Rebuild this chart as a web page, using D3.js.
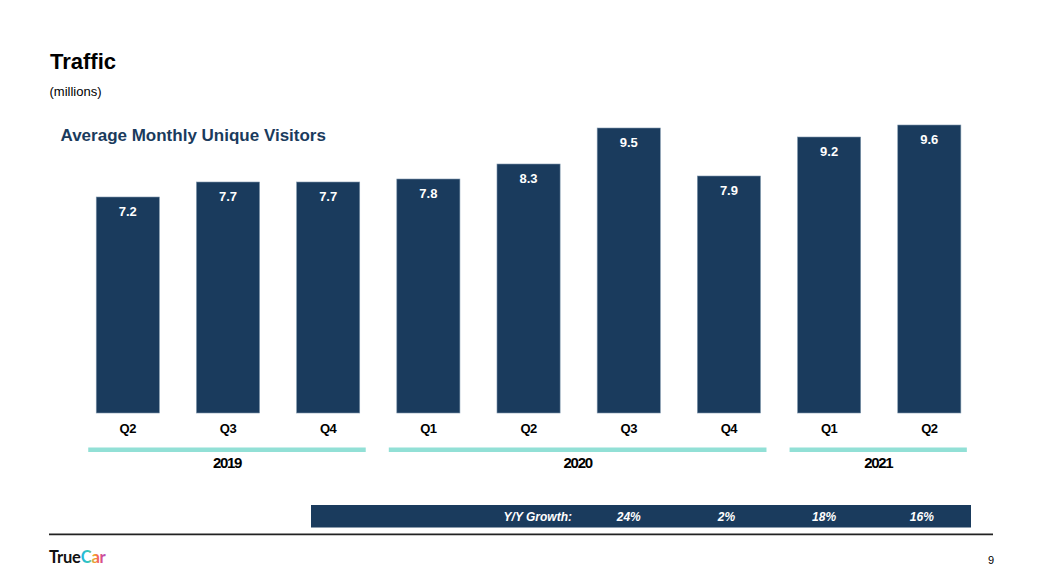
<!DOCTYPE html>
<html>
<head>
<meta charset="utf-8">
<script src="https://cdn.jsdelivr.net/npm/d3@7/dist/d3.min.js"></script>
<style>
  html, body { margin: 0; padding: 0; background: #fff; }
  svg { display: block; font-family: "Liberation Sans", Arial, Helvetica, sans-serif; }
</style>
</head>
<body>
<svg id="chart" width="1046" height="587"></svg>
<script>
// ---- data ----
const quarters = ["Q2", "Q3", "Q4", "Q1", "Q2", "Q3", "Q4", "Q1", "Q2"];
const years    = ["2019", "2019", "2019", "2020", "2020", "2020", "2020", "2021", "2021"];
const visitors = [7.2, 7.7, 7.7, 7.8, 8.3, 9.5, 7.9, 9.2, 9.6];
const yearGroups = ["2019", "2020", "2021"];
const growthIdx = [5, 6, 7, 8];
const growthLabels = ["24%", "2%", "18%", "16%"];

// ---- layout ----
const NAVY = "#1a3b5d";
const TEAL = "#92e0d6";
const svg = d3.select("#chart");

const keys = quarters.map((q, i) => i);
const x = d3.scaleBand().domain(keys).range([77.7, 979.4]).paddingInner(0.37).paddingOuter(0.185);
const y = d3.scaleLinear().domain([0, 9.6]).range([413, 125]);

// Titles
svg.append("text").attr("x", 50).attr("y", 69).attr("font-size", 22).attr("font-weight", "bold")
  .attr("fill", "#000").text("Traffic");
svg.append("text").attr("x", 49.5).attr("y", 96).attr("font-size", 13)
  .attr("fill", "#000").text("(millions)");
svg.append("text").attr("x", 60.5).attr("y", 141).attr("font-size", 17).attr("font-weight", "bold")
  .attr("fill", NAVY).text("Average Monthly Unique Visitors");

// Bars
svg.append("g").selectAll("rect").data(visitors).join("rect")
  .attr("x", (d, i) => x(i))
  .attr("y", d => y(d))
  .attr("width", x.bandwidth())
  .attr("height", d => y(0) - y(d))
  .attr("fill", NAVY)
  .attr("stroke", "#7d95ab")
  .attr("stroke-width", 0.6);

// Value labels
svg.append("g").selectAll("text").data(visitors).join("text")
  .attr("x", (d, i) => x(i) + x.bandwidth() / 2)
  .attr("y", d => y(d) + 19)
  .attr("text-anchor", "middle")
  .attr("font-size", 13).attr("font-weight", "bold").attr("fill", "#fff")
  .text(d => d.toFixed(1));

// Quarter axis
const xAxis = d3.axisBottom(x).tickSize(0).tickPadding(0).tickFormat(i => quarters[i]);
const axG = svg.append("g").attr("transform", `translate(0,${y(0)})`).call(xAxis);
axG.select(".domain").remove();
axG.selectAll("text")
  .attr("dy", null).attr("y", 20)
  .attr("font-size", 13).attr("font-weight", "bold").attr("fill", "#000")
  .attr("font-family", "'Liberation Sans', Arial, sans-serif")
  .attr("letter-spacing", "-0.5");

// Year group lines + labels
yearGroups.forEach(yr => {
  const idx = years.map((v, i) => v === yr ? i : -1).filter(i => i >= 0);
  const x0 = x(idx[0]) - 8;
  const x1 = x(idx[idx.length - 1]) + x.bandwidth() + 6;
  svg.append("rect").attr("x", x0).attr("y", 447.5).attr("width", x1 - x0).attr("height", 4.5).attr("fill", TEAL);
  svg.append("text").attr("x", (x0 + x1) / 2).attr("y", 468)
    .attr("text-anchor", "middle").attr("font-size", 15).attr("font-weight", "bold")
    .attr("letter-spacing", "-1.3").attr("fill", "#000").text(yr);
});

// Growth strip
svg.append("rect").attr("x", 311).attr("y", 505).attr("width", 660).attr("height", 22.5).attr("fill", NAVY);
svg.append("text").attr("x", 572).attr("y", 521).attr("text-anchor", "end")
  .attr("font-size", 12).attr("font-weight", "bold").attr("font-style", "italic").attr("fill", "#fff")
  .text("Y/Y Growth:");
svg.append("g").selectAll("text").data(growthLabels).join("text")
  .attr("x", (d, i) => x(growthIdx[i]) + x.bandwidth() / 2 - i * 2.5)
  .attr("y", 521)
  .attr("text-anchor", "middle")
  .attr("font-size", 12).attr("font-weight", "bold").attr("font-style", "italic").attr("fill", "#fff")
  .text(d => d);

// Footer rule
svg.append("line").attr("x1", 49).attr("x2", 993).attr("y1", 534.3).attr("y2", 534.3)
  .attr("stroke", "#222").attr("stroke-width", 1.8);

// Logo
const defs = svg.append("defs");
const grad = defs.append("linearGradient").attr("id", "carGrad")
  .attr("gradientUnits", "userSpaceOnUse").attr("x1", 81).attr("x2", 107).attr("y1", 0).attr("y2", 0);
grad.append("stop").attr("offset", "0%").attr("stop-color", "#1fb5e0");
grad.append("stop").attr("offset", "30%").attr("stop-color", "#38c7b8");
grad.append("stop").attr("offset", "50%").attr("stop-color", "#f5a623");
grad.append("stop").attr("offset", "70%").attr("stop-color", "#ef4f6e");
grad.append("stop").attr("offset", "100%").attr("stop-color", "#a44fd6");
const logo = svg.append("text").attr("x", 49).attr("y", 563).attr("font-size", 16.5)
  .attr("font-weight", "bold").attr("font-family", "Lato, 'Liberation Sans', sans-serif").attr("letter-spacing", "-0.2");
logo.append("tspan").attr("fill", "#111").text("True");
logo.append("tspan").attr("fill", "url(#carGrad)").text("Car");

// Page number
svg.append("text").attr("x", 991).attr("y", 564).attr("text-anchor", "middle").attr("font-size", 11)
  .attr("fill", "#000").text("9");
</script>
</body>
</html>
